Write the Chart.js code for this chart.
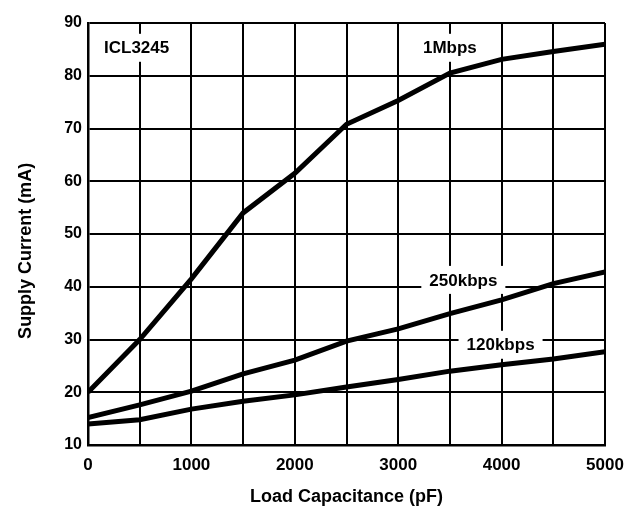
<!DOCTYPE html>
<html>
<head>
<meta charset="utf-8">
<script src="https://cdn.jsdelivr.net/npm/chart.js@4"></script>
<style>
  html, body { margin: 0; padding: 0; background: #fff; }
  canvas { display: block; }
</style>
</head>
<body>
<canvas id="supplyChart" width="642" height="511"></canvas>
<script>
// values
const loadCap = [0, 500, 1000, 1500, 2000, 2500, 3000, 3500, 4000, 4500, 5000];
const current1M = [20, 30, 41.5, 54, 61.5, 70.8, 75.3, 80.5, 83.1, 84.6, 86];
const current250k = [15.2, 17.6, 20.2, 23.5, 26.1, 29.7, 32, 34.9, 37.5, 40.6, 42.8];
const current120k = [14, 14.8, 16.8, 18.3, 19.5, 21, 22.4, 24, 25.2, 26.3, 27.7];
const xTickLabels = ["0", "1000", "2000", "3000", "4000", "5000"];
const yTickLabels = ["10", "20", "30", "40", "50", "60", "70", "80", "90"];
const curveNames = ["ICL3245", "1Mbps", "250kbps", "120kbps"];
const yTitle = "Supply Current (mA)";

// where the text boxes sit, in data units
const labelSpots = [
  { x: 470, y: 85.3 },
  { x: 3500, y: 85.3 },
  { x: 3630, y: 41.3 },
  { x: 3990, y: 29.0 }
];
const yTitleAt = 46.8; // the y title is not centred on the axis in the original

const FONT = "'Liberation Sans', Arial, sans-serif";

function toPoints(ys) {
  return loadCap.map((x, i) => ({ x: x, y: ys[i] }));
}

// white boxes with text that cut through the grid
const boxLabels = {
  id: "boxLabels",
  beforeDatasetsDraw(chart) {
    const ctx = chart.ctx;
    const xs = chart.scales.x, ys = chart.scales.y;
    ctx.save();
    ctx.font = "bold 17px " + FONT;
    ctx.textAlign = "center";
    ctx.textBaseline = "middle";
    curveNames.forEach((txt, i) => {
      const cx = xs.getPixelForValue(labelSpots[i].x);
      const cy = ys.getPixelForValue(labelSpots[i].y);
      const w = ctx.measureText(txt).width + 16;
      ctx.fillStyle = "#fff";
      ctx.fillRect(cx - w / 2, cy - 14, w, 28);
      ctx.fillStyle = "#000";
      ctx.fillText(txt, cx, cy + 1);
    });
    ctx.restore();
  },
  afterDraw(chart) {
    const ctx = chart.ctx;
    ctx.save();
    ctx.translate(chart.chartArea.left - 61.5, chart.scales.y.getPixelForValue(yTitleAt));
    ctx.rotate(-Math.PI / 2);
    ctx.font = "bold 18px " + FONT;
    ctx.fillStyle = "#000";
    ctx.textAlign = "center";
    ctx.textBaseline = "middle";
    ctx.fillText(yTitle, 0, 0);
    ctx.restore();
  }
};

Chart.defaults.color = "#000";

const lineStyle = {
  borderColor: "#000",
  borderWidth: 5,
  pointRadius: 0,
  tension: 0,
  fill: false
};

new Chart(document.getElementById("supplyChart"), {
  type: "line",
  data: {
    datasets: [
      Object.assign({ label: curveNames[1], data: toPoints(current1M) }, lineStyle),
      Object.assign({ label: curveNames[2], data: toPoints(current250k) }, lineStyle),
      Object.assign({ label: curveNames[3], data: toPoints(current120k) }, lineStyle)
    ]
  },
  options: {
    responsive: false,
    animation: false,
    layout: { padding: { left: 13, right: 37, top: 23, bottom: 3 } },
    plugins: {
      legend: { display: false },
      tooltip: { enabled: false }
    },
    scales: {
      x: {
        type: "linear",
        min: 0,
        max: 5000,
        afterFit: s => { s.height = 63; },
        grid: { color: "#000", lineWidth: 2, drawTicks: false },
        border: { color: "#000", width: 2.5 },
        ticks: {
          stepSize: 500,
          padding: 10,
          maxRotation: 0,
          autoSkip: false,
          font: { family: FONT, size: 17, weight: "bold" },
          callback: v => xTickLabels.includes(String(v)) ? String(v) : ""
        },
        title: {
          display: true,
          text: "Load Capacitance (pF)",
          padding: { top: 0, bottom: 0 },
          font: { family: FONT, size: 18, weight: "bold" }
        }
      },
      y: {
        min: 10,
        max: 90,
        afterFit: s => { s.width = 75; },
        grid: { color: "#000", lineWidth: 2, drawTicks: false },
        border: { color: "#000", width: 2.5 },
        ticks: {
          stepSize: 10,
          padding: 6,
          font: { family: FONT, size: 16, weight: "bold" },
          callback: v => yTickLabels.includes(String(v)) ? String(v) : ""
        }
      }
    }
  },
  plugins: [boxLabels]
});
</script>
</body>
</html>
